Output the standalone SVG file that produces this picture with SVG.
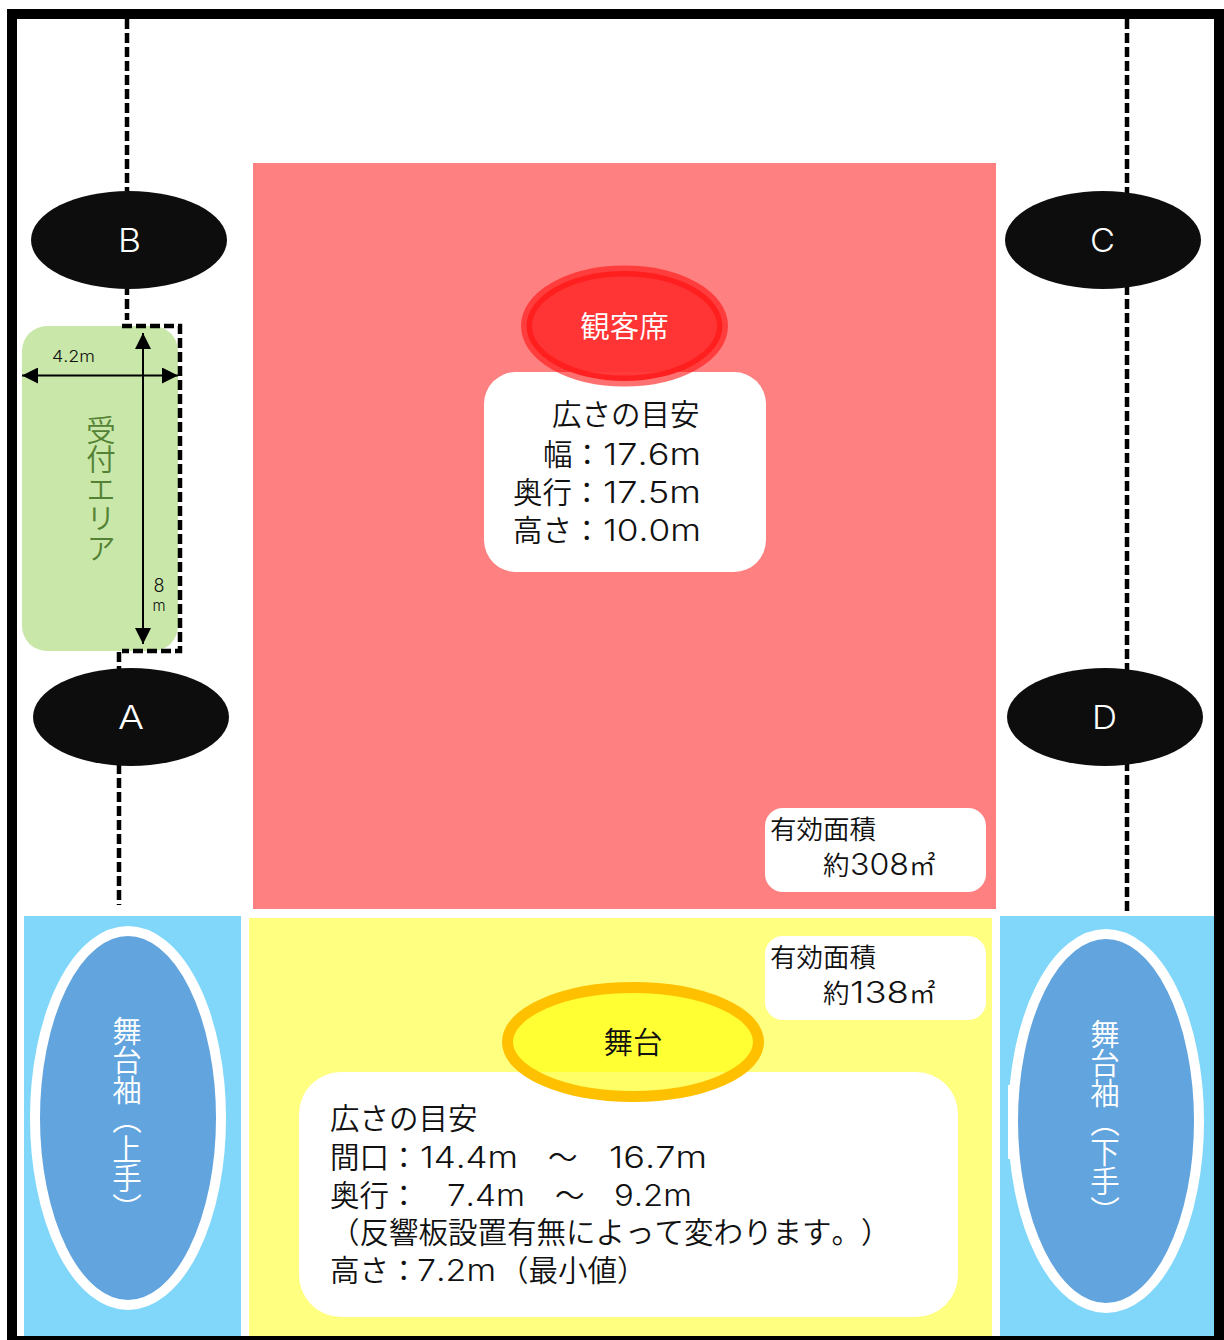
<svg xmlns="http://www.w3.org/2000/svg" width="1224" height="1340" viewBox="0 0 1224 1340">
<style>
text{font-family:"DejaVu Sans","Noto Sans CJK JP",sans-serif;fill:#111;font-size:29.500px;font-weight:350;font-kerning:none;text-spacing-trim:space-all}
.l{font-family:"Inter","Noto Sans CJK JP",sans-serif;font-size:30px;font-weight:300}
.s{font-size:26.500px}
.m{text-anchor:middle}
.w{fill:#fff}
.v{writing-mode:vertical-rl;font-family:"Noto Sans CJK JP",sans-serif}
.letter{font-family:"Inter",sans-serif;font-size:32px;font-weight:300;fill:#fff}
.dash{fill:none;stroke:#000;stroke-width:4.500;stroke-dasharray:10 4}
.arrow{fill:none;stroke:#000;stroke-width:2;marker-start:url(#ah);marker-end:url(#ah)}
.black{fill:#0d0d0d}
.box{fill:#fff}
.wing{fill:#61a4de;stroke:#fff;stroke-width:10}
</style>
<defs>
<marker id="ah" viewBox="0 0 16 16" refX="16" refY="8" markerWidth="16" markerHeight="16" markerUnits="userSpaceOnUse" orient="auto-start-reverse"><path d="M0 0L16 8L0 16Z" fill="#000"/></marker>
</defs>
<rect width="1224" height="1340" fill="#fff"/>
<g id="areas">
<rect x="253" y="163" width="743" height="746" fill="#ff8080"/>
<rect x="249" y="918" width="743" height="418" fill="#ffff80"/>
<rect x="24" y="916" width="217" height="420" fill="#81d7fa"/>
<rect x="1000" y="916" width="214" height="420" fill="#81d7fa"/>
</g>
<g id="reception">
<rect x="22" y="326" width="156" height="325" rx="25" fill="#c9e7a8"/>
<text class="v" x="101" y="415" style="fill:#548235">受付エリア</text>
</g>
<g id="connectors">
<path class="dash" d="M127 19V320"/>
<path class="dash" d="M122 326H180V651H122"/>
<path class="dash" d="M119 652V905"/>
<path class="dash" d="M1127 19V912"/>
<path class="arrow" d="M22 375.500H178"/>
<path class="arrow" d="M143 333V644"/>
</g>
<g id="dimensions">
<text class="l" x="52" y="362" style="font-size:16px" textLength="43" lengthAdjust="spacingAndGlyphs">4.2m</text>
<text class="l m" x="159" y="592" style="font-size:18px">8</text>
<text class="l m" x="159" y="611" style="font-size:15px">m</text>
</g>
<g id="node-b"><ellipse class="black" cx="129" cy="240" rx="98" ry="49"/><text class="letter" x="118" y="252" textLength="23" lengthAdjust="spacingAndGlyphs">B</text></g>
<g id="node-c"><ellipse class="black" cx="1103" cy="240" rx="98" ry="49"/><text class="letter" x="1090" y="252" textLength="25" lengthAdjust="spacingAndGlyphs">C</text></g>
<g id="node-a"><ellipse class="black" cx="131" cy="717" rx="98" ry="49"/><text class="letter" x="118" y="729" textLength="26" lengthAdjust="spacingAndGlyphs">A</text></g>
<g id="node-d"><ellipse class="black" cx="1105" cy="717" rx="98" ry="49"/><text class="letter" x="1092" y="729" textLength="25" lengthAdjust="spacingAndGlyphs">D</text></g>
<g id="audience-info">
<rect class="box" x="484" y="372" width="282" height="200" rx="32"/>
<text x="552" y="425">広さの目安</text>
<text y="465"><tspan x="543">幅：</tspan><tspan class="l" x="603" textLength="98" lengthAdjust="spacingAndGlyphs">17.6m</tspan></text>
<text y="503"><tspan x="513">奥行：</tspan><tspan class="l" x="603" textLength="98" lengthAdjust="spacingAndGlyphs">17.5m</tspan></text>
<text y="541"><tspan x="513">高さ：</tspan><tspan class="l" x="603" textLength="98" lengthAdjust="spacingAndGlyphs">10.0m</tspan></text>
</g>
<g id="audience">
<ellipse cx="624.500" cy="326" rx="98" ry="55" fill="#ff3030" fill-opacity=".95" stroke="#ff1010" stroke-opacity=".6" stroke-width="11"/>
<text class="m w" x="624.500" y="337">観客席</text>
</g>
<g id="audience-area">
<rect class="box" x="765" y="808" width="221" height="84" rx="18"/>
<text class="s" x="770" y="839">有効面積</text>
<text class="s" y="875"><tspan x="823">約</tspan><tspan class="l" x="850" textLength="59" lengthAdjust="spacingAndGlyphs">308</tspan><tspan x="909">㎡</tspan></text>
</g>
<g id="stage-area">
<rect class="box" x="765" y="936" width="221" height="84" rx="18"/>
<text class="s" x="770" y="967">有効面積</text>
<text class="s" y="1003"><tspan x="823">約</tspan><tspan class="l" x="850" textLength="59" lengthAdjust="spacingAndGlyphs">138</tspan><tspan x="909">㎡</tspan></text>
</g>
<g id="stage-info">
<rect class="box" x="299" y="1072" width="659" height="245" rx="42"/>
<text x="330" y="1129">広さの目安</text>
<text y="1168"><tspan x="330">間口：</tspan><tspan class="l" x="420" textLength="98" lengthAdjust="spacingAndGlyphs">14.4m</tspan><tspan x="548">～</tspan><tspan class="l" x="609" textLength="98" lengthAdjust="spacingAndGlyphs">16.7m</tspan></text>
<text y="1206"><tspan x="330">奥行：</tspan><tspan class="l" x="447" textLength="78" lengthAdjust="spacingAndGlyphs">7.4m</tspan><tspan x="555">～</tspan><tspan class="l" x="614" textLength="78" lengthAdjust="spacingAndGlyphs">9.2m</tspan></text>
<text x="330" y="1243">（反響板設置有無によって変わります。）</text>
<text y="1281"><tspan x="330">高さ：</tspan><tspan class="l" x="417" textLength="79" lengthAdjust="spacingAndGlyphs">7.2m</tspan><tspan x="499">（最小値）</tspan></text>
</g>
<g id="stage">
<ellipse cx="633" cy="1042" rx="125.500" ry="54.500" fill="#ffff00" fill-opacity=".6" stroke="#ffc000" stroke-width="11"/>
<text class="m" x="633" y="1053">舞台</text>
</g>
<g id="wing-left">
<ellipse class="wing" cx="128" cy="1118" rx="93" ry="187"/>
<text class="v w" x="127" y="1016">舞台袖（上手）</text>
</g>
<g id="wing-right">
<rect x="1008" y="1085" width="4" height="74" fill="#fff"/>
<ellipse class="wing" cx="1106" cy="1121" rx="93" ry="187"/>
<text class="v w" x="1105" y="1019">舞台袖（下手）</text>
</g>
<path id="frame" d="M7 9H1224V1340H7ZM17 19V1336H1214V19Z" fill="#000" fill-rule="evenodd"/>
</svg>
